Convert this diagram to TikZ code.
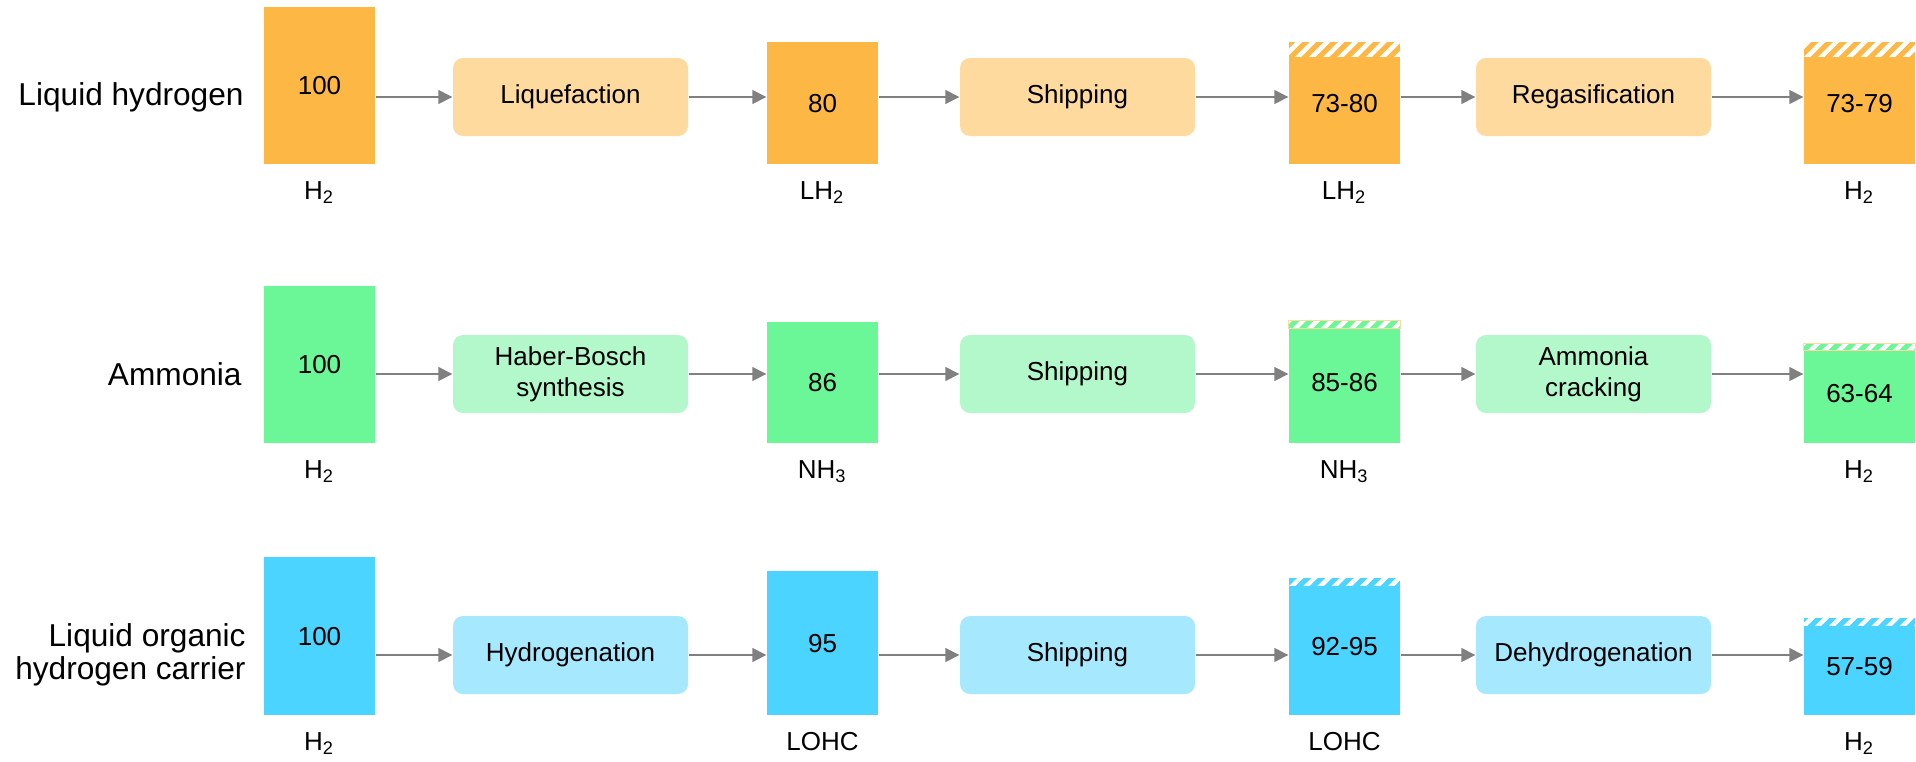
\documentclass[tikz,border=0pt]{standalone}
\usepackage{fontspec}
\setmainfont{Liberation Sans}
\usetikzlibrary{positioning,arrows.meta,patterns.meta}

\definecolor{lhbox}{HTML}{FDB745}
\definecolor{lhproc}{HTML}{FEDA9F}
\definecolor{ambox}{HTML}{6BF697}
\definecolor{amproc}{HTML}{B3F8CA}
\definecolor{lobox}{HTML}{4AD4FF}
\definecolor{loproc}{HTML}{A6E9FE}
\definecolor{flowgray}{HTML}{808080}

\tikzset{
  qty/.style={minimum width=1.11cm, anchor=south, inner sep=0pt,
    font=\fontsize{7.4}{9}\selectfont},
  proc/.style={rounded corners=0.1cm, minimum width=2.35cm, minimum height=0.78cm,
    align=center, inner sep=0pt, font=\fontsize{7.4}{8.9}\selectfont},
  chem/.style={inner sep=0pt, font=\fontsize{7.4}{9}\selectfont},
  rowlabel/.style={anchor=east, align=right, inner sep=0pt,
    font=\fontsize{9}{9.4}\selectfont},
  flow/.style={draw=flowgray, line width=0.45pt,
    -{Triangle[length=0.14cm,width=0.14cm]}},
  hatch/.style={pattern={Lines[angle=45,distance=0.1cm,line width=0.045cm]},
    pattern color=white}
}

\begin{document}
\begin{tikzpicture}

\useasboundingbox (0,0) rectangle (19.16,7.61);

% Liquid hydrogen
\node[qty, fill=lhbox, minimum height=1.57cm] (lh1) at (3.195,5.96) {100};
\node[proc, fill=lhproc] (lhp1) at (5.705,6.64) {Liquefaction};
\node[qty, fill=lhbox, minimum height=1.22cm] (lh2) at (8.225,5.96) {80};
\node[proc, fill=lhproc] (lhp2) at (10.775,6.64) {Shipping};
\node[qty, fill=lhbox, minimum height=1.22cm] (lh3) at (13.445,5.96) {73-80};
\node[proc, fill=lhproc] (lhp3) at (15.935,6.64) {Regasification};
\node[qty, fill=lhbox, minimum height=1.22cm] (lh4) at (18.595,5.96) {73-79};

\fill[hatch] (lh3.north west) rectangle ([yshift=-0.15cm]lh3.north east);
\fill[hatch] (lh4.north west) rectangle ([yshift=-0.15cm]lh4.north east);

\node[rowlabel, xshift=-0.19cm] (lhname) at (lh1.west |- lhp1) {Liquid hydrogen};
\node[chem, below=0.16cm of lh1] (lhs1) {H\textsubscript{2}};
\node[chem, below=0.16cm of lh2] (lhs2) {LH\textsubscript{2}};
\node[chem, below=0.16cm of lh3] (lhs3) {LH\textsubscript{2}};
\node[chem, below=0.16cm of lh4] (lhs4) {H\textsubscript{2}};

\draw[flow] (lh1.east |- lhp1) -- (lhp1.west);
\draw[flow] (lhp1.east) -- (lh2.west |- lhp1);
\draw[flow] (lh2.east |- lhp2) -- (lhp2.west);
\draw[flow] (lhp2.east) -- (lh3.west |- lhp2);
\draw[flow] (lh3.east |- lhp3) -- (lhp3.west);
\draw[flow] (lhp3.east) -- (lh4.west |- lhp3);

% Ammonia
\node[qty, fill=ambox, minimum height=1.57cm] (am1) at (3.195,3.17) {100};
\node[proc, fill=amproc] (amp1) at (5.705,3.87) {Haber-Bosch\\synthesis};
\node[qty, fill=ambox, minimum height=1.21cm] (am2) at (8.225,3.17) {86};
\node[proc, fill=amproc] (amp2) at (10.775,3.87) {Shipping};
\node[qty, fill=ambox, minimum height=1.22cm] (am3) at (13.445,3.17) {85-86};
\node[proc, fill=amproc] (amp3) at (15.935,3.87) {Ammonia\\cracking};
\node[qty, fill=ambox, minimum height=0.99cm] (am4) at (18.595,3.17) {63-64};

\fill[hatch, draw=lhproc, line width=0.3pt] (am3.north west) rectangle ([yshift=-0.08cm]am3.north east);
\fill[hatch, draw=lhproc, line width=0.3pt] (am4.north west) rectangle ([yshift=-0.07cm]am4.north east);

\node[rowlabel, xshift=-0.21cm] (amname) at (am1.west |- amp1) {Ammonia};
\node[chem, below=0.16cm of am1] (ams1) {H\textsubscript{2}};
\node[chem, below=0.16cm of am2] (ams2) {NH\textsubscript{3}};
\node[chem, below=0.16cm of am3] (ams3) {NH\textsubscript{3}};
\node[chem, below=0.16cm of am4] (ams4) {H\textsubscript{2}};

\draw[flow] (am1.east |- amp1) -- (amp1.west);
\draw[flow] (amp1.east) -- (am2.west |- amp1);
\draw[flow] (am2.east |- amp2) -- (amp2.west);
\draw[flow] (amp2.east) -- (am3.west |- amp2);
\draw[flow] (am3.east |- amp3) -- (amp3.west);
\draw[flow] (amp3.east) -- (am4.west |- amp3);

% LOHC
\node[qty, fill=lobox, minimum height=1.58cm] (lo1) at (3.195,0.45) {100};
\node[proc, fill=loproc] (lop1) at (5.705,1.06) {Hydrogenation};
\node[qty, fill=lobox, minimum height=1.44cm] (lo2) at (8.225,0.45) {95};
\node[proc, fill=loproc] (lop2) at (10.775,1.06) {Shipping};
\node[qty, fill=lobox, minimum height=1.37cm] (lo3) at (13.445,0.45) {92-95};
\node[proc, fill=loproc] (lop3) at (15.935,1.06) {Dehydrogenation};
\node[qty, fill=lobox, minimum height=0.97cm] (lo4) at (18.595,0.45) {57-59};

\fill[hatch] (lo3.north west) rectangle ([yshift=-0.08cm]lo3.north east);
\fill[hatch] (lo4.north west) rectangle ([yshift=-0.08cm]lo4.north east);

\node[rowlabel, xshift=-0.17cm] (loname) at (lo1.west |- lop1) {Liquid organic\\hydrogen carrier};
\node[chem, below=0.16cm of lo1] (los1) {H\textsubscript{2}};
\node[chem, below=0.16cm of lo2] (los2) {LOHC};
\node[chem, below=0.16cm of lo3] (los3) {LOHC};
\node[chem, below=0.16cm of lo4] (los4) {H\textsubscript{2}};

\draw[flow] (lo1.east |- lop1) -- (lop1.west);
\draw[flow] (lop1.east) -- (lo2.west |- lop1);
\draw[flow] (lo2.east |- lop2) -- (lop2.west);
\draw[flow] (lop2.east) -- (lo3.west |- lop2);
\draw[flow] (lo3.east |- lop3) -- (lop3.west);
\draw[flow] (lop3.east) -- (lo4.west |- lop3);

\end{tikzpicture}
\end{document}
